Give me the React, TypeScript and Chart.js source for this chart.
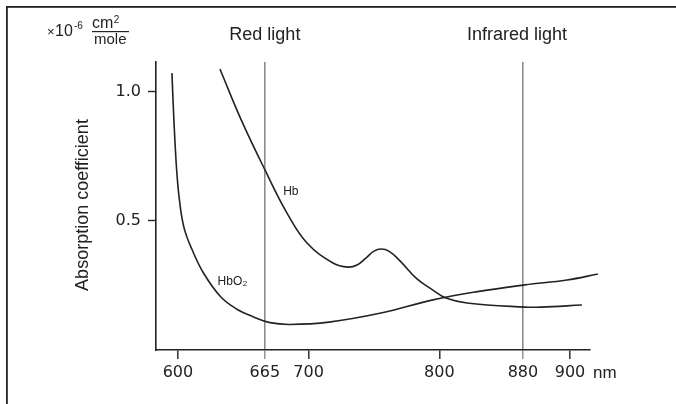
import React, { useEffect, useRef } from 'react';
import { Chart, registerables, LinearScale } from 'chart.js';

// ---- data ----
const X_TICKS = [600, 665, 700, 800, 880, 900];
// where each tick sits on the (schematic, non-uniform) wavelength axis
const X_TICK_POS = [600, 666.5, 700, 800, 864, 900];
const MARKED_NM = [665, 880];
const Y_TICKS = [0.5, 1.0];

const HB_NM = [631.4, 647.4, 665.1, 682.7, 698.7, 718.6, 730.1, 737.0, 743.8, 750.0, 755.3, 761.4, 769.9, 782.9, 795.1, 806.3, 826.4, 880.8, 887.6, 909.1];
const HB_VAL = [1.088, 0.89, 0.697, 0.53, 0.414, 0.337, 0.321, 0.329, 0.356, 0.383, 0.391, 0.383, 0.345, 0.275, 0.232, 0.201, 0.182, 0.166, 0.166, 0.174];

const HBO2_NM = [595.4, 596.9, 599.0, 601.1, 604.6, 610.7, 619.1, 632.1, 644.4, 656.6, 669.1, 685.1, 715.5, 755.3, 795.1, 835.0, 880.8, 898.7, 921.3];
const HBO2_VAL = [1.072, 0.89, 0.697, 0.581, 0.472, 0.387, 0.298, 0.205, 0.157, 0.128, 0.106, 0.099, 0.108, 0.143, 0.194, 0.225, 0.252, 0.271, 0.294];

const TITLE_LEFT = 'Red light';
const TITLE_RIGHT = 'Infrared light';
const Y_TITLE = 'Absorption coefficient';
const X_UNIT = 'nm';

const INK = '#222222';
const GRAY = '#8c8c8c';
const SANS = '"Liberation Sans", Arial, sans-serif';
const NUM = '"DejaVu Sans", sans-serif';

function warp(v: number, from: number[], to: number[]): number {
  const n = from.length - 1;
  if (v <= from[0]) return to[0] + (v - from[0]);
  if (v >= from[n]) return to[n] + (v - from[n]);
  for (let i = 0; i < n; i++) {
    if (v <= from[i + 1]) {
      return to[i] + ((v - from[i]) * (to[i + 1] - to[i])) / (from[i + 1] - from[i]);
    }
  }
  return v;
}

class WarpedScale extends LinearScale {
  static id = 'warped';
  static defaults = (LinearScale as any).defaults;
  getPixelForValue(value: number) {
    return super.getPixelForValue(warp(value, X_TICKS, X_TICK_POS));
  }
  getValueForPixel(pixel: number) {
    return warp(super.getValueForPixel(pixel) as number, X_TICK_POS, X_TICKS);
  }
}

Chart.register(...registerables, WarpedScale as any);

const decorations = {
  id: 'decorations',
  afterDraw(chart: any) {
    const ctx = chart.ctx as CanvasRenderingContext2D;
    const xs = chart.scales.x;
    const ys = chart.scales.y;
    ctx.save();
    ctx.fillStyle = INK;
    // frame
    ctx.fillRect(6, 6, 676 - 6, 1.8);
    ctx.fillRect(6, 6, 1.8, 404 - 6);

    // titles
    ctx.font = `18px ${SANS}`;
    ctx.textAlign = 'center';
    ctx.textBaseline = 'alphabetic';
    ctx.fillText(TITLE_LEFT, xs.getPixelForValue(665), 40);
    ctx.fillText(TITLE_RIGHT, xs.getPixelForValue(880) - 6, 40);

    // y title
    ctx.save();
    ctx.translate(88, 205);
    ctx.rotate(-Math.PI / 2);
    ctx.textBaseline = 'alphabetic';
    ctx.fillText(Y_TITLE, 0, 0);
    ctx.restore();

    // unit
    ctx.textAlign = 'left';
    ctx.font = `13px ${SANS}`;
    ctx.fillText('\u00d7', 47, 36);
    ctx.font = `16px ${SANS}`;
    ctx.fillText('10', 55, 36);
    ctx.font = `10px ${SANS}`;
    ctx.fillText('-6', 74, 29);
    ctx.font = `16px ${SANS}`;
    ctx.fillText('cm', 92, 28);
    const cmw = ctx.measureText('cm').width;
    ctx.font = `10px ${SANS}`;
    ctx.fillText('2', 92 + cmw + 0.5, 23);
    ctx.fillRect(92, 31, 37, 1.2);
    ctx.font = `15px ${SANS}`;
    ctx.fillText('mole', 94, 44);

    // x unit
    ctx.font = `17px ${SANS}`;
    ctx.textBaseline = 'middle';
    ctx.fillText(X_UNIT, 593, 373);

    // curve labels
    ctx.font = `12px ${SANS}`;
    ctx.textAlign = 'center';
    ctx.fillText('Hb', xs.getPixelForValue(685.8), ys.getPixelForValue(0.614));
    const hx = xs.getPixelForValue(642.1) + 1;
    const hy = ys.getPixelForValue(0.265);
    ctx.textAlign = 'right';
    ctx.fillText('HbO', hx + 7, hy);
    ctx.textAlign = 'left';
    ctx.font = `8px ${SANS}`;
    ctx.fillText('2', hx + 7.5, hy + 2);
    ctx.restore();
  },
};

export default function App() {
  const ref = useRef<HTMLCanvasElement>(null);
  useEffect(() => {
    if (!ref.current) return;
    const line = {
      borderColor: INK,
      borderWidth: 1.6,
      pointRadius: 0,
      tension: 0.4,
      fill: false,
      clip: false as any,
    };
    const chart = new Chart(ref.current, {
      type: 'line',
      data: {
        datasets: [
          { label: 'Hb', data: HB_NM.map((x, i) => ({ x, y: HB_VAL[i] })), ...line },
          { label: 'HbO2', data: HBO2_NM.map((x, i) => ({ x, y: HBO2_VAL[i] })), ...line },
        ],
      },
      options: {
        responsive: false,
        animation: false,
        devicePixelRatio: 1,
        layout: { padding: { top: 62, right: 86, left: 0, bottom: 0 } },
        plugins: { legend: { display: false }, tooltip: { enabled: false }, title: { display: false } },
        scales: {
          x: {
            type: 'warped' as any,
            min: 583.2,
            max: 915.3,
            afterFit: (s: any) => { s.height = 54; },
            afterBuildTicks: (s: any) => { s.ticks = X_TICKS.map((v) => ({ value: v })); },
            border: { display: true, color: INK, width: 1.6 },
            grid: {
              drawOnChartArea: true,
              drawTicks: true,
              tickLength: 9,
              lineWidth: 1.6,
              color: (c: any) => (c.tick && MARKED_NM.includes(c.tick.value) ? GRAY : 'rgba(0,0,0,0)'),
              tickColor: (c: any) => (c.tick && MARKED_NM.includes(c.tick.value) ? GRAY : INK),
              tickWidth: 1.4,
            },
            ticks: {
              autoSkip: false,
              maxRotation: 0,
              padding: 4,
              color: INK,
              font: { family: NUM, size: 16 },
              callback: (v: any) => String(v),
            },
          },
          y: {
            type: 'linear',
            min: 0,
            max: 1.115,
            afterFit: (s: any) => { s.width = 156; },
            afterBuildTicks: (s: any) => { s.ticks = Y_TICKS.map((v) => ({ value: v })); },
            border: { display: true, color: INK, width: 1.6 },
            grid: { drawOnChartArea: false, drawTicks: true, tickLength: 8, tickColor: INK, tickWidth: 1.4 },
            ticks: {
              padding: 7,
              color: INK,
              font: { family: NUM, size: 16 },
              callback: (v: any) => Number(v).toFixed(1),
            },
          },
        },
      },
      plugins: [decorations],
    });
    return () => chart.destroy();
  }, []);
  return (
    <div style={{ position: 'fixed', left: 0, top: 0, width: 676, height: 404, background: '#fff' }}>
      <canvas ref={ref} width={676} height={404} style={{ display: 'block', width: 676, height: 404 }} />
    </div>
  );
}
